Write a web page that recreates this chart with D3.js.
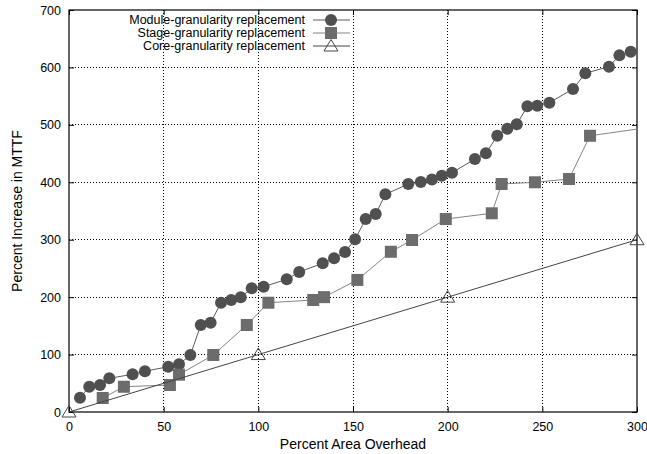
<!DOCTYPE html>
<html>
<head>
<meta charset="utf-8">
<script src="https://cdn.jsdelivr.net/npm/d3@7"></script>
<style>
  body { margin: 0; background: #fff; }
  text { font-family: "Liberation Sans", Arial, sans-serif; font-size: 12px; fill: #000; }
</style>
</head>
<body>
<svg id="chart"></svg>
<script>
// series data
const moduleX = [5.8, 10.7, 16.4, 21.3, 33.6, 40.1, 52.4, 58.1, 64.1, 69.6, 74.8, 80.3, 85.7, 90.7, 96.5, 102.8, 115, 121.6, 134, 140, 145.8, 151.1, 156.7, 162, 167.1, 179.2, 185.8, 191.7, 196.9, 202.3, 214.4, 220.2, 226.2, 231.5, 236.5, 242.1, 247.3, 253.7, 266.2, 272.7, 285.2, 290.7, 296.7];
const moduleY = [25, 44, 47, 58.7, 65.6, 70.9, 78.9, 83, 99.2, 151.5, 155.5, 190.3, 195, 199.7, 215.4, 218.2, 231, 243.8, 259, 267.6, 278.6, 300.7, 336, 344.8, 379, 397, 400.5, 405, 411.5, 416.7, 440.5, 450.5, 481, 493.3, 501, 532.3, 533.4, 538.6, 562.4, 589.8, 601.3, 621, 627.4];
const stageX = [17.8, 29, 53.3, 58.1, 76.2, 93.9, 105.3, 129, 134.7, 152.3, 170, 181.2, 199, 223.3, 228.5, 246.1, 264.1, 275.2, 320];
const stageY = [24.4, 44, 47, 65, 99.3, 151.5, 190.3, 195, 200, 230, 279, 299.5, 336, 346, 397, 400, 405.7, 481, 502];
const coreX = [0, 100, 200, 300];
const coreY = [0, 100, 200, 300];
const seriesNames = ["Module-granularity replacement", "Stage-granularity replacement", "Core-granularity replacement"];
const xTicks = [0, 50, 100, 150, 200, 250, 300];
const yTicks = [0, 100, 200, 300, 400, 500, 600, 700];

const W = 647, H = 454;
const margin = { top: 10, right: 10, bottom: 42, left: 69 };
const width = W - margin.left - margin.right;
const height = H - margin.top - margin.bottom;

const svg = d3.select('#chart').attr('width', W).attr('height', H);
const g = svg.append('g').attr('transform', `translate(${margin.left},${margin.top})`);

const x = d3.scaleLinear().domain([0, 300]).range([0, width]);
const y = d3.scaleLinear().domain([0, 700]).range([height, 0]);

svg.append('defs').append('clipPath').attr('id', 'clip')
  .append('rect').attr('width', width).attr('height', height);

// grid
g.selectAll('.gx').data(xTicks.slice(1, -1)).enter().append('line')
  .attr('x1', d => x(d)).attr('x2', d => x(d)).attr('y1', 0).attr('y2', height)
  .attr('stroke', '#000').attr('stroke-dasharray', '1,2').attr('shape-rendering', 'crispEdges');
g.selectAll('.gy').data(yTicks.slice(1, -1)).enter().append('line')
  .attr('y1', d => y(d)).attr('y2', d => y(d)).attr('x1', 0).attr('x2', width)
  .attr('stroke', '#000').attr('stroke-dasharray', '1,2').attr('shape-rendering', 'crispEdges');

// axes with inward ticks on all four sides
g.append('g').attr('transform', `translate(0,${height})`)
  .call(d3.axisBottom(x).tickValues(xTicks).tickSize(-5).tickPadding(10));
g.append('g').call(d3.axisTop(x).tickValues(xTicks).tickSize(-5).tickFormat(''));
g.append('g').call(d3.axisLeft(y).tickValues(yTicks).tickSize(-5).tickPadding(8));
g.append('g').attr('transform', `translate(${width},0)`)
  .call(d3.axisRight(y).tickValues(yTicks).tickSize(-5).tickFormat(''));
g.selectAll('.domain').remove();
g.selectAll('.tick line').attr('stroke', '#000');
g.selectAll('.tick text').style('font-size', '12.5px').attr('fill', '#000');

g.append('rect').attr('width', width).attr('height', height)
  .attr('fill', 'none').attr('stroke', '#000').attr('stroke-width', 1.2);

// series
const styles = [
  { xs: moduleX, ys: moduleY, line: '#5a5a5a', fill: '#505050', shape: 'circle' },
  { xs: stageX, ys: stageY, line: '#858585', fill: '#6c6c6c', shape: 'square' },
  { xs: coreX, ys: coreY, line: '#444', fill: '#fff', shape: 'triangle' }
];

function drawMarker(sel, shape, s) {
  if (shape === 'circle') {
    sel.append('circle').attr('r', 6).attr('fill', s.fill);
  } else if (shape === 'square') {
    sel.append('rect').attr('x', -6).attr('y', -6).attr('width', 12).attr('height', 12).attr('fill', s.fill);
  } else {
    sel.append('path').attr('d', 'M0,-6.5L7,5L-7,5Z').attr('fill', 'none').attr('stroke', s.line).attr('stroke-width', 1);
  }
}

const line = d3.line().x(d => x(d[0])).y(d => y(d[1]));
styles.forEach(s => {
  const pts = s.xs.map((v, i) => [v, s.ys[i]]);
  g.append('path').datum(pts).attr('d', line).attr('clip-path', 'url(#clip)')
    .attr('fill', 'none').attr('stroke', s.line).attr('stroke-width', 1);
  g.selectAll(null).data(pts.filter(p => p[0] <= 300)).enter().append('g')
    .attr('transform', d => `translate(${x(d[0])},${y(d[1])})`)
    .each(function () { drawMarker(d3.select(this), s.shape, s); });
});

// legend
const legend = svg.selectAll('.legend').data(seriesNames).enter().append('g')
  .attr('transform', (d, i) => `translate(0,${20 + i * 13})`);
legend.append('text').attr('x', 305).attr('dy', '0.35em')
  .style('text-anchor', 'end').style('font-size', '12.5px').text(d => d);
legend.append('line').attr('x1', 313).attr('x2', 350)
  .attr('stroke', (d, i) => styles[i].line).attr('stroke-width', 1);
legend.each(function (d, i) {
  const m = d3.select(this).append('g').attr('transform', 'translate(331,0)');
  drawMarker(m, styles[i].shape, styles[i]);
});

// axis titles
svg.append('text').attr('x', margin.left + width / 2).attr('y', 449)
  .style('text-anchor', 'middle').style('font-size', '14px').text('Percent Area Overhead');
svg.append('text').attr('transform', `translate(22,${margin.top + height / 2}) rotate(-90)`)
  .style('text-anchor', 'middle').style('font-size', '14px').text('Percent Increase in MTTF');
</script>
</body>
</html>
